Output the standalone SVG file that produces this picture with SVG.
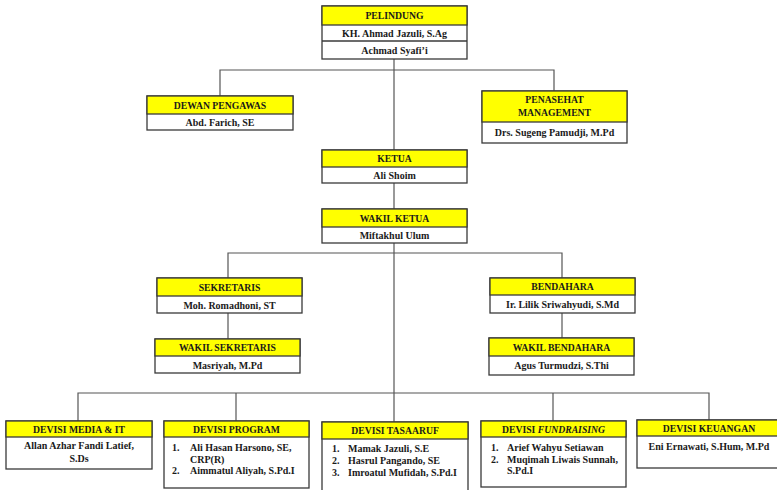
<svg xmlns="http://www.w3.org/2000/svg" width="777" height="490" viewBox="0 0 777 490">
<style>
.bg{fill:#ffffff}
.box{fill:#ffffff;stroke:#3a3a3a;stroke-width:1.3}
.hd{fill:#ffff00;stroke:#3a3a3a;stroke-width:1.3}
.t{font-family:"Liberation Serif","Times New Roman",serif;font-weight:bold;font-size:10px;fill:#1a1a1a;text-anchor:middle}
.h{font-size:9.7px}
.l{font-family:"Liberation Serif","Times New Roman",serif;font-weight:bold;font-size:10px;fill:#1a1a1a}
.c{fill:none;stroke:#555;stroke-width:1.2}
</style>
<rect class="bg" x="0" y="0" width="777" height="490"/>
<g id="connectors">
<path class="c" d="M394 59V150"/>
<path class="c" d="M220 96V70H554V91"/>
<path class="c" d="M394 183V209"/>
<path class="c" d="M394 243V422"/>
<path class="c" d="M228 278V253H562V278"/>
<path class="c" d="M228 313V339"/>
<path class="c" d="M562 313V338"/>
<path class="c" d="M78 421V393H709V420"/>
<path class="c" d="M236 393V421"/>
<path class="c" d="M553 393V421"/>
</g>
<g id="pelindung">
<rect class="box" x="322" y="6" width="145" height="53"/>
<rect class="hd" x="322" y="6" width="145" height="19"/>
<line x1="322" y1="41" x2="467" y2="41" style="stroke:#3a3a3a;stroke-width:1.3"/>
<text class="t h" x="394.5" y="19">PELINDUNG</text>
<text class="t" x="394.5" y="37">KH. Ahmad Jazuli, S.Ag</text>
<text class="t" x="394.5" y="54">Achmad Syafi’i</text>
</g>
<g id="dewan-pengawas">
<rect class="box" x="147" y="96" width="146" height="34"/>
<rect class="hd" x="147" y="96" width="146" height="18"/>
<text class="t h" x="220" y="109">DEWAN PENGAWAS</text>
<text class="t" x="220" y="126">Abd. Farich, SE</text>
</g>
<g id="penasehat">
<rect class="box" x="482" y="91" width="145" height="52"/>
<rect class="hd" x="482" y="91" width="145" height="31"/>
<text class="t h" x="554.5" y="103">PENASEHAT</text>
<text class="t h" x="554.5" y="116">MANAGEMENT</text>
<text class="t" x="554.5" y="136">Drs. Sugeng Pamudji, M.Pd</text>
</g>
<g id="ketua">
<rect class="box" x="322" y="150" width="145" height="33"/>
<rect class="hd" x="322" y="150" width="145" height="17"/>
<text class="t h" x="394.5" y="162">KETUA</text>
<text class="t" x="394.5" y="179">Ali Shoim</text>
</g>
<g id="wakil-ketua">
<rect class="box" x="322" y="209" width="145" height="34"/>
<rect class="hd" x="322" y="209" width="145" height="18"/>
<text class="t h" x="394.5" y="222">WAKIL KETUA</text>
<text class="t" x="394.5" y="239">Miftakhul Ulum</text>
</g>
<g id="sekretaris">
<rect class="box" x="157" y="278" width="145" height="35"/>
<rect class="hd" x="157" y="278" width="145" height="18"/>
<text class="t h" x="229.5" y="291">SEKRETARIS</text>
<text class="t" x="229.5" y="309">Moh. Romadhoni, ST</text>
</g>
<g id="wakil-sekretaris">
<rect class="box" x="155" y="339" width="145" height="34"/>
<rect class="hd" x="155" y="339" width="145" height="17"/>
<text class="t h" x="227.5" y="351">WAKIL SEKRETARIS</text>
<text class="t" x="227.5" y="369">Masriyah, M.Pd</text>
</g>
<g id="bendahara">
<rect class="box" x="490" y="278" width="145" height="35"/>
<rect class="hd" x="490" y="278" width="145" height="17"/>
<text class="t h" x="562.5" y="290">BENDAHARA</text>
<text class="t" x="562.5" y="308">Ir. Lilik Sriwahyudi, S.Md</text>
</g>
<g id="wakil-bendahara">
<rect class="box" x="489" y="338" width="145" height="37"/>
<rect class="hd" x="489" y="338" width="145" height="18"/>
<text class="t h" x="561.5" y="351">WAKIL BENDAHARA</text>
<text class="t" x="561.5" y="369">Agus Turmudzi, S.Thi</text>
</g>
<g id="devisi-media-it">
<rect class="box" x="6" y="421" width="146" height="48"/>
<rect class="hd" x="6" y="421" width="146" height="16"/>
<text class="t h" x="79" y="433">DEVISI MEDIA &amp; IT</text>
<text class="t" x="79" y="449">Allan Azhar Fandi Latief,</text>
<text class="t" x="79" y="462">S.Ds</text>
</g>
<g id="devisi-program">
<rect class="box" x="164" y="421" width="145" height="67"/>
<rect class="hd" x="164" y="421" width="145" height="16"/>
<text class="t h" x="236.5" y="433">DEVISI PROGRAM</text>
<text class="l" x="172" y="451">1.</text>
<text class="l" x="190" y="451">Ali Hasan Harsono, SE,</text>
<text class="l" x="190" y="463">CRP(R)</text>
<text class="l" x="172" y="474">2.</text>
<text class="l" x="190" y="474">Aimmatul Aliyah, S.Pd.I</text>
</g>
<g id="devisi-tasaaruf">
<rect class="box" x="322" y="422" width="146" height="75"/>
<rect class="hd" x="322" y="422" width="146" height="17"/>
<text class="t h" x="395" y="434">DEVISI TASAARUF</text>
<text class="l" x="332" y="452">1.</text>
<text class="l" x="348" y="452">Mamak Jazuli, S.E</text>
<text class="l" x="332" y="464">2.</text>
<text class="l" x="348" y="464">Hasrul Pangando, SE</text>
<text class="l" x="332" y="476">3.</text>
<text class="l" x="348" y="476">Imroatul Mufidah, S.Pd.I</text>
</g>
<g id="devisi-fundraising">
<rect class="box" x="481" y="421" width="145" height="66"/>
<rect class="hd" x="481" y="421" width="145" height="16"/>
<text class="t h" x="553.5" y="433">DEVISI <tspan font-style="italic">FUNDRAISING</tspan></text>
<text class="l" x="491" y="451">1.</text>
<text class="l" x="507" y="451">Arief Wahyu Setiawan</text>
<text class="l" x="491" y="463">2.</text>
<text class="l" x="507" y="463">Muqimah Liwais Sunnah,</text>
<text class="l" x="507" y="474">S.Pd.I</text>
</g>
<g id="devisi-keuangan">
<rect class="box" x="637" y="420" width="145" height="48"/>
<rect class="hd" x="637" y="420" width="145" height="16"/>
<text class="t h" x="709" y="432">DEVISI KEUANGAN</text>
<text class="t" x="709" y="450">Eni Ernawati, S.Hum, M.Pd</text>
</g>
</svg>
